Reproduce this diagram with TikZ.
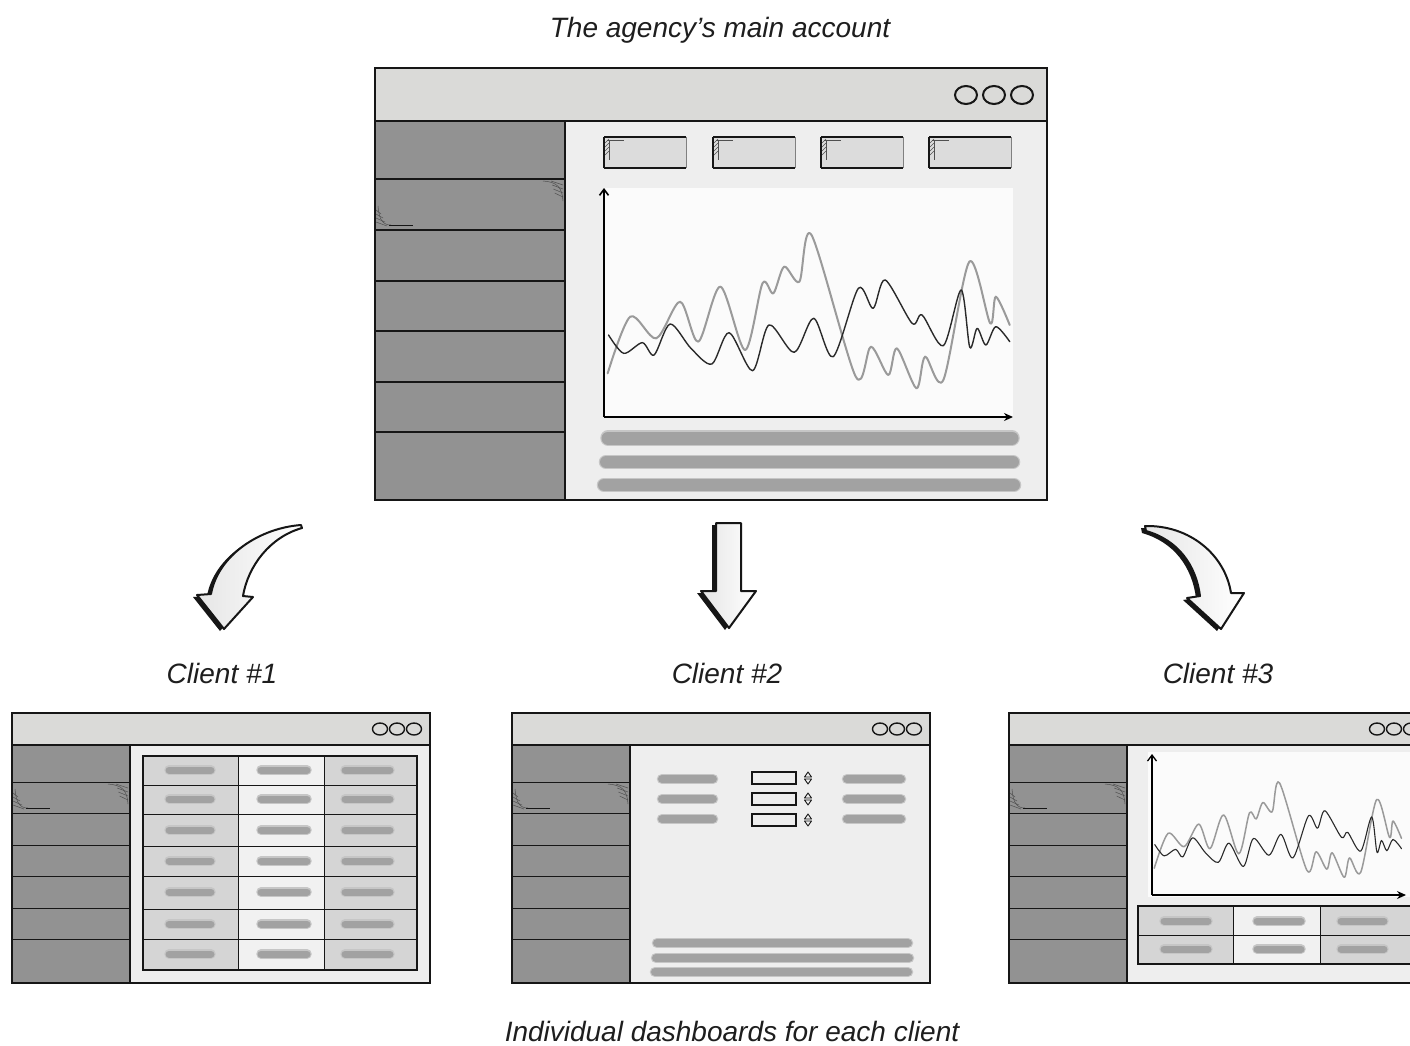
\documentclass[tikz,border=0pt]{standalone}
\usepackage{fontspec}
\setmainfont{Liberation Sans}
\usetikzlibrary{arrows.meta}

\definecolor{titlegray}{HTML}{DADAD8}
\definecolor{sidegray}{HTML}{929292}
\definecolor{panelgray}{HTML}{EEEEEE}
\definecolor{chartwhite}{HTML}{FBFBFB}
\definecolor{bargray}{HTML}{A2A2A2}
\definecolor{barhalo}{HTML}{C6C6C6}
\definecolor{cellgray}{HTML}{D5D5D5}
\definecolor{celllight}{HTML}{F1F1F1}
\definecolor{kpigray}{HTML}{DCDCDC}
\definecolor{curvegray}{HTML}{9A9A9A}
\definecolor{curveblack}{HTML}{2A2A2A}
\definecolor{inkblack}{HTML}{161616}
\definecolor{textink}{HTML}{1E1E1E}

\tikzset{
  frameline/.style={draw=inkblack, line width=2.5pt},
  rowline/.style={draw=inkblack, line width=1.3pt},
  hatchline/.style={draw=inkblack!75, line width=0.5pt},
  caption/.style={font=\fontsize{28}{32}\selectfont\itshape, text=textink, anchor=base, inner sep=0pt},
  blockarrow/.style={draw=inkblack, line width=2pt, line join=round, left color=gray!20, right color=white},
  arrowshadow/.style={fill=inkblack},
  yaxis/.style={line width=1.6pt, -{Straight Barb[length=6pt,width=9pt]}},
  xaxis/.style={line width=1.6pt, -{Stealth[length=9pt,width=8pt]}},
}

% a soft grey placeholder bar: x1, x2, y, thickness
\newcommand\softbar[4]{%
  \draw[draw=barhalo, line width=#4pt+2.5pt, line cap=round] (#1,#3) -- (#2,#3);
  \draw[draw=bargray, line width=#4pt, line cap=round] (#1,#3) -- (#2,#3);}

% the two data series of the line chart: grey width, black width
\newcommand\chartcurves[2]{%
  \draw[draw=curvegray, line width=#1, line join=round, line cap=round]
    plot[smooth, tension=0.5] coordinates {(548,940) (600,770) (660,835) (715,725) (757,845) (808,680) (865,870) (905,670) (930,700) (955,620) (990,665) (1018,525) (1120,950) (1155,860) (1195,945) (1215,865) (1260,985) (1280,890) (1322,960) (1382,605) (1430,790) (1443,710) (1475,795)};
  \draw[draw=curveblack, line width=#2, line join=round, line cap=round]
    plot[smooth, tension=0.5] coordinates {(550,825) (585,880) (628,848) (655,885) (692,792) (740,865) (788,912) (828,818) (882,932) (920,795) (978,877) (1023,775) (1068,890) (1126,685) (1160,745) (1188,660) (1250,790) (1273,765) (1322,857) (1363,690) (1383,862) (1400,805) (1420,855) (1443,800) (1475,845)};}

% small pencil hatching in a sidebar row: right edge x, top y, bottom y, left edge x
\newcommand\rowhatch[4]{%
  \draw[hatchline] (#1-22,#2+2) .. controls (#1-8,#2+3) and (#1-3,#2+8) .. (#1-2,#2+22);
  \foreach \k in {0,4,8,12} \draw[hatchline] (#1-14+\k*0.3,#2+2+\k) -- (#1-2,#2+6+\k);
  \draw[hatchline] (#4+3,#3-24) .. controls (#4+4,#3-10) and (#4+8,#3-5) .. (#4+16,#3-5);
  \draw[draw=inkblack, line width=1pt] (#4+14,#3-5) -- (#4+38,#3-5);
  \foreach \k in {0,4,8,12} \draw[hatchline] (#4+1,#3-20+\k) -- (#4+6+\k*0.5,#3-16+\k);}

% a small dashboard window frame with its sidebar
\newcommand\drawminiwin[1]{%
  \begin{scope}[shift={(#1,713)}]
    \fill[titlegray] (0,0) rectangle (418,32);
    \fill[sidegray] (0,32) rectangle (118,270);
    \fill[panelgray] (118,32) rectangle (418,270);
    \foreach \yy in {69,100,132,163,195,226} \draw[rowline, line width=1pt] (0,\yy) -- (118,\yy);
    \rowhatch{118}{69}{100}{0}
    \draw[rowline] (118,32) -- (118,270);
    \draw[frameline, line width=2pt] (0,32) -- (418,32);
    \draw[frameline, line width=2pt] (0,0) rectangle (418,270);
    \foreach \xx in {368,385,402} \draw[draw=inkblack, line width=1.4pt] (\xx,16) ellipse [x radius=7.5pt, y radius=6pt];
  \end{scope}}

% outlines of the three block arrows
\newcommand\leftarrowshape[1]{\path[#1] (301,525) .. controls (260,528) and (218,555) .. (211,594) -- (197,595) -- (224,629) -- (253,597) -- (243,596) .. controls (248,566) and (270,537) .. (302,528) -- cycle;}
\newcommand\midarrowshape[1]{\path[#1] (716,523) -- (741,523) -- (741,591) -- (756,591) -- (729,628) -- (701,591) -- (716,591) -- cycle;}
\newcommand\rightarrowshape[1]{\path[#1] (1145,526) .. controls (1190,525) and (1225,555) .. (1231,593) -- (1244,593) -- (1221,629) -- (1187,598) -- (1200,596) .. controls (1196,565) and (1178,540) .. (1146,531) -- cycle;}

\begin{document}
\begin{tikzpicture}[x=1pt, y=-1pt]
\useasboundingbox (0,0) rectangle (1410,1045);
\fill[white] (0,0) rectangle (1410,1045);
\clip (0,0) rectangle (1410,1045);

% ---------- agency account window ----------
\fill[titlegray] (375,68) rectangle (1047,121);
\fill[sidegray] (375,121) rectangle (565,500);
\fill[panelgray] (565,121) rectangle (1047,500);
\fill[chartwhite] (604,188) rectangle (1013,418);
\foreach \y in {179,230,281,331,382,432} \draw[rowline] (375,\y) -- (565,\y);
\rowhatch{565}{179}{230}{375}
\draw[rowline] (565,121) -- (565,500);
\draw[frameline] (375,121) -- (1047,121);
\draw[frameline] (375,68) rectangle (1047,500);
\foreach \x in {966,994,1022} \draw[draw=inkblack, line width=2pt] (\x,95) ellipse [x radius=11pt, y radius=9pt];

% KPI tiles
\foreach \x in {604,713,821,929} {
  \fill[kpigray] (\x,137) rectangle ++(82,31);
  \draw[draw=inkblack, line width=1.8pt] (\x,137) -- ++(82,0);
  \draw[draw=inkblack, line width=1.8pt] (\x,168) -- ++(82,0);
  \draw[draw=inkblack, line width=1.2pt] (\x,137) -- ++(0,31);
  \draw[draw=gray, line width=0.6pt] (\x+82,137) -- ++(0,31);
  \draw[hatchline] (\x+5,140) -- (\x+5,160);
  \draw[hatchline] (\x+3,140) -- (\x+20,140);
  \foreach \k in {0,4,8,12} \draw[hatchline] (\x+1,143+\k) -- (\x+5,139+\k);
}

% line chart
\draw[yaxis] (604,417) -- (604,188);
\draw[xaxis] (604,417) -- (1013,417);
\begin{scope}[shift={(370,60)}, x=0.4337pt, y=-0.33333pt]
  \chartcurves{2pt}{1.4pt}
\end{scope}

% text placeholders under the chart
\softbar{608}{1012}{438}{13}
\softbar{606}{1013}{462}{12}
\softbar{604}{1014}{485}{12}

% ---------- arrows ----------
\leftarrowshape{arrowshadow, shift={(-4,2)}}
\leftarrowshape{blockarrow}
\midarrowshape{arrowshadow, shift={(-4,2)}}
\midarrowshape{blockarrow}
\rightarrowshape{arrowshadow, shift={(-4,2)}}
\rightarrowshape{blockarrow}

% ---------- client windows ----------
\drawminiwin{12}
\drawminiwin{512}
\drawminiwin{1009}

% client 1: table
\fill[cellgray] (143,756) rectangle (238,970);
\fill[celllight] (238,756) rectangle (324,970);
\fill[cellgray] (324,756) rectangle (417,970);
\foreach \y in {785,814,846,876,909,939} \draw[draw=inkblack, line width=0.9pt] (143,\y) -- (417,\y);
\draw[draw=inkblack, line width=1pt] (238,756) -- (238,970) (324,756) -- (324,970);
\draw[draw=inkblack, line width=1.3pt] (143,756) rectangle (417,970);
\foreach \y in {770,799,830,861,892,924,954} {
  \softbar{169}{211}{\y}{7}
  \softbar{261}{307}{\y}{7}
  \softbar{345}{390}{\y}{7}
}

% client 2: form
\foreach \y in {779,799,819} {
  \softbar{662}{713}{\y}{8}
  \softbar{847}{901}{\y}{8}
}
\foreach \y in {772,793,814} {
  \draw[draw=inkblack, line width=1.3pt] (752,\y) rectangle (796,\y+12);
  \draw[draw=inkblack, line width=0.9pt, line join=round] (804.5,\y+5) -- (811.5,\y+5) -- (808,\y) -- cycle;
  \draw[draw=inkblack, line width=0.9pt, line join=round] (804.5,\y+7) -- (811.5,\y+7) -- (808,\y+12) -- cycle;
}
\softbar{657}{908}{943}{8}
\softbar{656}{909}{958}{8}
\softbar{655}{908}{972}{8}

% client 3: chart and table
\fill[chartwhite] (1148,752) rectangle (1416,897);
\draw[yaxis, line width=1.3pt] (1152,895) -- (1152,754);
\draw[xaxis, line width=1.3pt] (1152,895) -- (1406,895);
\begin{scope}[shift={(1152,895)}, scale=0.615, shift={(-604,-417)}]
  \begin{scope}[shift={(370,60)}, x=0.4337pt, y=-0.33333pt]
    \chartcurves{1.5pt}{1.1pt}
  \end{scope}
\end{scope}
\fill[cellgray] (1138,906) rectangle (1233,964);
\fill[celllight] (1233,906) rectangle (1320,964);
\fill[cellgray] (1320,906) rectangle (1427,964);
\draw[draw=inkblack, line width=0.9pt] (1138,935) -- (1427,935);
\draw[draw=inkblack, line width=1pt] (1233,906) -- (1233,964) (1320,906) -- (1320,964);
\draw[draw=inkblack, line width=1.3pt] (1138,906) rectangle (1427,964);
\foreach \y in {921,949} {
  \softbar{1164}{1208}{\y}{7}
  \softbar{1257}{1301}{\y}{7}
  \softbar{1341}{1384}{\y}{7}
}

% ---------- captions ----------
\node[caption] (maintitle) at (720,37) {The agency’s main account};
\node[caption] (client1) at (222,683) {Client \#1};
\node[caption] (client2) at (727,683) {Client \#2};
\node[caption] (client3) at (1218,683) {Client \#3};
\node[caption] (footer) at (732,1041) {Individual dashboards for each client};
\end{tikzpicture}
\end{document}
